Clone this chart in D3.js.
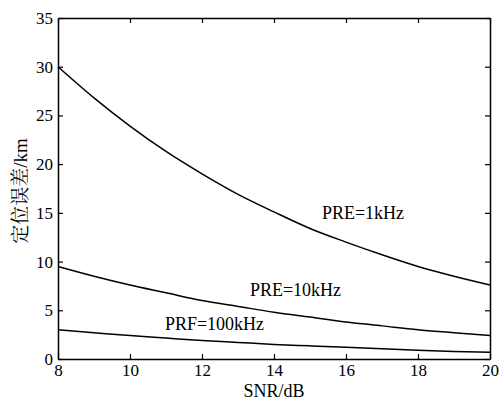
<!DOCTYPE html>
<html>
<head>
<meta charset="utf-8">
<script src="https://cdn.jsdelivr.net/npm/d3@7"></script>
<style>
  body { margin: 0; background: #fff; }
  text { font-family: "Liberation Serif", "Times New Roman", "Noto Serif CJK SC", serif; fill: #000; }
</style>
</head>
<body>
<div id="chart"></div>
<script>
//SNR values along the x axis (dB)
var snr = [8, 9, 10, 11, 12, 13, 14, 15, 16, 17, 18, 19, 20];

//Positioning error (km) for each PRF
var err1k = [30.0, 26.8, 23.9, 21.3, 19.0, 16.9, 15.1, 13.4, 12.0, 10.7, 9.5, 8.5, 7.6];
var err10k = [9.5, 8.5, 7.6, 6.8, 6.0, 5.4, 4.8, 4.3, 3.8, 3.4, 3.0, 2.7, 2.4];
var err100k = [3.0, 2.7, 2.4, 2.15, 1.9, 1.7, 1.5, 1.35, 1.2, 1.05, 0.9, 0.78, 0.7];

var xTicks = [8, 10, 12, 14, 16, 18, 20];
var yTicks = [0, 5, 10, 15, 20, 25, 30, 35];

//Curve labels, placed at a data position (left edge, baseline)
var labels = [
    { "text": "PRE=1kHz", "x": 15.33, "y": 14.4 },
    { "text": "PRE=10kHz", "x": 13.33, "y": 6.5 },
    { "text": "PRF=100kHz", "x": 10.97, "y": 3.0 }
];

var width = 499, height = 401;
var margin = { top: 18, right: 9, bottom: 42, left: 58 };

var svg = d3.select("#chart")
    .append("svg")
    .attr("width", width)
    .attr("height", height);

var x = d3.scaleLinear().domain([8, 20]).range([margin.left, width - margin.right]);
var y = d3.scaleLinear().domain([0, 35]).range([height - margin.bottom, margin.top]);

var serif = "'Liberation Serif', 'Times New Roman', serif";

//axes with inward ticks, mirrored on top and right
svg.append("g")
    .attr("transform", "translate(0," + y(0) + ")")
    .call(d3.axisBottom(x).tickValues(xTicks).tickSizeInner(-5).tickSizeOuter(0).tickPadding(5));

svg.append("g")
    .attr("transform", "translate(0," + y(35) + ")")
    .call(d3.axisTop(x).tickValues(xTicks).tickSizeInner(-5).tickSizeOuter(0).tickFormat(""));

svg.append("g")
    .attr("transform", "translate(" + x(8) + ",0)")
    .call(d3.axisLeft(y).tickValues(yTicks).tickSizeInner(-5).tickSizeOuter(0).tickPadding(5));

svg.append("g")
    .attr("transform", "translate(" + x(20) + ",0)")
    .call(d3.axisRight(y).tickValues(yTicks).tickSizeInner(-5).tickSizeOuter(0).tickFormat(""));

svg.selectAll(".domain").attr("stroke", "#000").attr("stroke-width", 1.5);
svg.selectAll(".tick line").attr("stroke", "#000").attr("stroke-width", 1.2);
svg.selectAll(".tick text")
    .attr("fill", "#000")
    .style("font-size", "17px")
    .style("font-family", serif);

//the three curves
var line = d3.line()
    .x(function (d, i) { return x(snr[i]); })
    .y(function (d) { return y(d); })
    .curve(d3.curveMonotoneX);

[err1k, err10k, err100k].forEach(function (s) {
    svg.append("path")
        .attr("d", line(s))
        .attr("fill", "none")
        .attr("stroke", "#000")
        .attr("stroke-width", 1.5);
});

//curve labels
svg.selectAll(".lbl")
    .data(labels)
    .enter()
    .append("text")
    .attr("class", "lbl")
    .attr("x", function (d) { return x(d.x); })
    .attr("y", function (d) { return y(d.y); })
    .style("font-size", "18px")
    .text(function (d) { return d.text; });

//axis titles
svg.append("text")
    .attr("x", (x(8) + x(20)) / 2)
    .attr("y", 397)
    .attr("text-anchor", "middle")
    .style("font-size", "18px")
    .text("SNR/dB");

svg.append("text")
    .attr("transform", "translate(27,191) rotate(-90)")
    .attr("text-anchor", "middle")
    .style("font-size", "19px")
    .style("font-family", "'Liberation Serif', 'Noto Serif CJK SC', serif")
    .text("定位误差/km");
</script>
</body>
</html>
